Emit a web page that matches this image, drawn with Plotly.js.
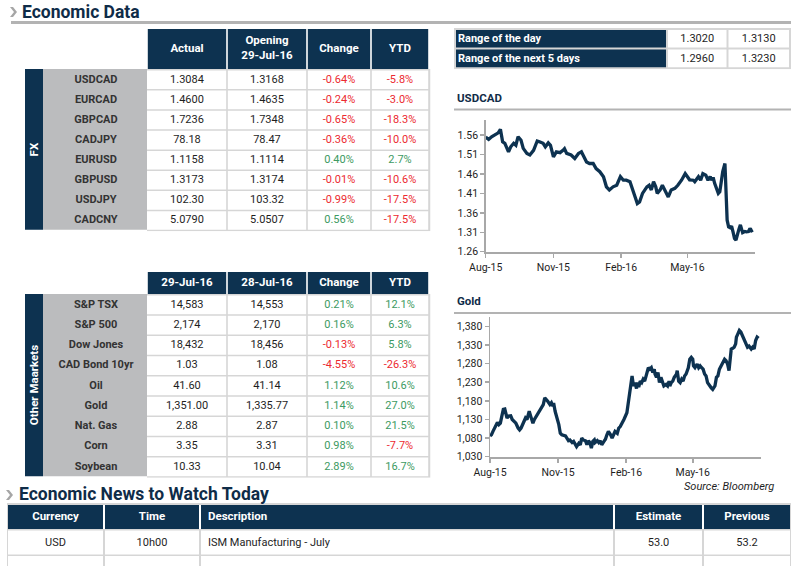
<!DOCTYPE html>
<html><head><meta charset="utf-8">
<script src="https://cdn.plot.ly/plotly-3.0.1.min.js"></script>
<style>html,body{margin:0;padding:0;background:#fff;overflow:hidden}#chart{width:806px;height:566px}</style>
</head><body><div id="chart"></div><script>
// ---------- DATA ----------
const fxPairs   = ['USDCAD','EURCAD','GBPCAD','CADJPY','EURUSD','GBPUSD','USDJPY','CADCNY'];
const fxActual  = ['1.3084','1.4600','1.7236','78.18','1.1158','1.3173','102.30','5.0790'];
const fxOpening = ['1.3168','1.4635','1.7348','78.47','1.1114','1.3174','103.32','5.0507'];
const fxChange  = ['-0.64%','-0.24%','-0.65%','-0.36%','0.40%','-0.01%','-0.99%','0.56%'];
const fxYtd     = ['-5.8%','-3.0%','-18.3%','-10.0%','2.7%','-10.6%','-17.5%','-17.5%'];
const fxHeaders = ['Actual','Opening<br>29-Jul-16','Change','YTD'];
const fxSideLabel = 'FX';

const mktNames  = ['S&P TSX','S&P 500','Dow Jones','CAD Bond 10yr','Oil','Gold','Nat. Gas','Corn','Soybean'];
const mkt29     = ['14,583','2,174','18,432','1.03','41.60','1,351.00','2.88','3.35','10.33'];
const mkt28     = ['14,553','2,170','18,456','1.08','41.14','1,335.77','2.87','3.31','10.04'];
const mktChange = ['0.21%','0.16%','-0.13%','-4.55%','1.12%','1.14%','0.10%','0.98%','2.89%'];
const mktYtd    = ['12.1%','6.3%','5.8%','-26.3%','10.6%','27.0%','21.5%','-7.7%','16.7%'];
const mktHeaders = ['29-Jul-16','28-Jul-16','Change','YTD'];
const mktSideLabel = 'Other Maarkets';

const rangeLabels = ['Range of the day','Range of the next 5 days'];
const rangeLow    = ['1.3020','1.2960'];
const rangeHigh   = ['1.3130','1.3230'];

const newsHeaders  = ['Currency','Time','Description','Estimate','Previous'];
const newsCurrency = ['USD'];
const newsTime     = ['10h00'];
const newsDesc     = ['ISM Manufacturing - July'];
const newsEstimate = ['53.0'];
const newsPrevious = ['53.2'];

const usdcadDates = ['2015-08-01','2015-08-05','2015-08-09','2015-08-14','2015-08-18','2015-08-21','2015-08-24','2015-08-27','2015-09-01','2015-09-04','2015-09-08','2015-09-11','2015-09-14','2015-09-18','2015-09-21','2015-09-26','2015-09-30','2015-10-05','2015-10-08','2015-10-10','2015-10-13','2015-10-18','2015-10-21','2015-10-25','2015-10-28','2015-11-01','2015-11-05','2015-11-10','2015-11-14','2015-11-16','2015-11-19','2015-11-25','2015-11-30','2015-12-05','2015-12-09','2015-12-11','2015-12-16','2015-12-20','2015-12-25','2015-12-29','2016-01-03','2016-01-08','2016-01-10','2016-01-12','2016-01-16','2016-01-19','2016-01-21','2016-01-26','2016-01-28','2016-01-31','2016-02-04','2016-02-08','2016-02-13','2016-02-15','2016-02-17','2016-02-20','2016-02-23','2016-02-26','2016-03-01','2016-03-04','2016-03-07','2016-03-10','2016-03-13','2016-03-16','2016-03-19','2016-03-21','2016-03-25','2016-03-28','2016-03-31','2016-04-03','2016-04-05','2016-04-09','2016-04-14','2016-04-18','2016-04-23','2016-04-28','2016-05-01','2016-05-04','2016-05-09','2016-05-11','2016-05-16','2016-05-19','2016-05-22','2016-05-26','2016-05-29','2016-06-01','2016-06-03','2016-06-05','2016-06-07','2016-06-10','2016-06-12','2016-06-14','2016-06-16','2016-06-18','2016-06-21','2016-06-22','2016-06-23','2016-06-24','2016-06-26','2016-06-28','2016-06-30','2016-07-02','2016-07-04','2016-07-06','2016-07-08','2016-07-10','2016-07-12','2016-07-15','2016-07-18','2016-07-20','2016-07-23','2016-07-25','2016-07-27','2016-07-29'];
const usdcadValues = [1.555,1.549,1.556,1.563,1.566,1.575,1.543,1.539,1.517,1.530,1.539,1.534,1.556,1.547,1.526,1.513,1.509,1.521,1.534,1.545,1.543,1.539,1.530,1.540,1.534,1.504,1.517,1.515,1.521,1.525,1.513,1.509,1.500,1.513,1.517,1.509,1.491,1.487,1.487,1.474,1.466,1.453,1.440,1.427,1.419,1.423,1.427,1.431,1.440,1.453,1.444,1.444,1.440,1.427,1.419,1.401,1.384,1.388,1.410,1.419,1.427,1.431,1.419,1.440,1.427,1.410,1.419,1.431,1.419,1.410,1.401,1.419,1.423,1.431,1.444,1.461,1.454,1.445,1.444,1.440,1.453,1.444,1.461,1.457,1.444,1.453,1.444,1.451,1.436,1.419,1.410,1.414,1.440,1.466,1.487,1.455,1.390,1.341,1.324,1.322,1.326,1.311,1.294,1.290,1.307,1.318,1.329,1.309,1.312,1.311,1.312,1.320,1.314,1.316];

const goldDates = ['2015-08-01','2015-08-03','2015-08-05','2015-08-07','2015-08-10','2015-08-11','2015-08-13','2015-08-15','2015-08-17','2015-08-19','2015-08-21','2015-08-22','2015-08-24','2015-08-26','2015-08-29','2015-08-31','2015-09-03','2015-09-05','2015-09-08','2015-09-10','2015-09-12','2015-09-15','2015-09-18','2015-09-20','2015-09-22','2015-09-23','2015-09-25','2015-09-28','2015-09-30','2015-10-03','2015-10-05','2015-10-08','2015-10-10','2015-10-12','2015-10-14','2015-10-16','2015-10-18','2015-10-21','2015-10-23','2015-10-25','2015-10-26','2015-10-28','2015-10-31','2015-11-02','2015-11-04','2015-11-06','2015-11-11','2015-11-13','2015-11-15','2015-11-17','2015-11-20','2015-11-22','2015-11-24','2015-11-26','2015-11-29','2015-12-01','2015-12-03','2015-12-05','2015-12-08','2015-12-10','2015-12-12','2015-12-14','2015-12-16','2015-12-18','2015-12-20','2015-12-21','2015-12-24','2015-12-26','2015-12-28','2015-12-30','2016-01-02','2016-01-04','2016-01-06','2016-01-08','2016-01-11','2016-01-13','2016-01-15','2016-01-17','2016-01-20','2016-01-22','2016-01-24','2016-01-27','2016-01-29','2016-02-02','2016-02-04','2016-02-06','2016-02-08','2016-02-09','2016-02-10','2016-02-11','2016-02-13','2016-02-15','2016-02-16','2016-02-18','2016-02-20','2016-02-22','2016-02-24','2016-02-26','2016-02-28','2016-03-02','2016-03-04','2016-03-06','2016-03-08','2016-03-10','2016-03-11','2016-03-13','2016-03-15','2016-03-17','2016-03-19','2016-03-21','2016-03-23','2016-03-26','2016-03-28','2016-03-30','2016-03-31','2016-04-02','2016-04-04','2016-04-06','2016-04-09','2016-04-10','2016-04-12','2016-04-14','2016-04-16','2016-04-18','2016-04-20','2016-04-22','2016-04-25','2016-04-27','2016-04-29','2016-05-01','2016-05-02','2016-05-04','2016-05-07','2016-05-09','2016-05-11','2016-05-13','2016-05-15','2016-05-17','2016-05-19','2016-05-21','2016-05-24','2016-05-26','2016-05-28','2016-05-31','2016-06-02','2016-06-04','2016-06-06','2016-06-08','2016-06-11','2016-06-13','2016-06-15','2016-06-17','2016-06-19','2016-06-21','2016-06-22','2016-06-24','2016-06-26','2016-06-28','2016-06-29','2016-07-01','2016-07-03','2016-07-05','2016-07-07','2016-07-10','2016-07-12','2016-07-14','2016-07-16','2016-07-19','2016-07-21','2016-07-23','2016-07-25','2016-07-27','2016-07-29'];
const goldValues = [1086,1089,1098,1107,1119,1122,1116,1120,1139,1157,1158,1148,1134,1139,1140,1130,1122,1120,1107,1102,1107,1120,1134,1130,1143,1152,1139,1120,1130,1139,1148,1157,1161,1170,1188,1184,1179,1170,1175,1166,1174,1152,1134,1116,1093,1089,1086,1080,1073,1075,1068,1071,1062,1057,1066,1062,1080,1075,1073,1062,1073,1068,1053,1071,1075,1068,1073,1068,1073,1062,1071,1077,1089,1098,1089,1080,1089,1098,1093,1107,1111,1120,1130,1148,1175,1202,1238,1247,1233,1220,1229,1213,1229,1217,1233,1229,1238,1233,1247,1269,1265,1269,1256,1265,1252,1243,1256,1229,1243,1233,1220,1224,1220,1233,1220,1229,1233,1243,1252,1261,1233,1229,1238,1233,1247,1252,1269,1292,1297,1292,1274,1269,1279,1269,1274,1269,1265,1252,1247,1229,1218,1215,1211,1220,1243,1247,1265,1274,1283,1292,1288,1279,1261,1301,1319,1321,1324,1333,1351,1360,1369,1365,1356,1338,1329,1324,1327,1319,1324,1319,1342,1351,1348];

// ---------- STYLE ----------
const W = 806, H = 566;
const px = x => x / W, py = y => 1 - y / H;
const F = 'Roboto, "Liberation Sans", sans-serif';
const NAVY = '#0d3250', LBL = '#bbbcbe', BORDER = '#d6d6d6', RED = '#ec2a30', GREEN = '#3d9a62',
      TXT = '#1e1e1e', LTXT = '#333333', AX = '#a8a8a8', TITLE = '#0f2c48', RULE = '#b3b3b3';
const esc = s => s.replace(/&/g, '&amp;');
const bold = s => '<b>' + s.split('<br>').map(esc).join('</b><br><b>') + '</b>';
const signColor = s => s.trim().startsWith('-') ? RED : GREEN;
const cum = w => w.reduce((a, v) => { a.push(a[a.length - 1] + v); return a; }, [0]);

const layout = {
  width: W, height: H, margin: {l: 0, r: 0, t: 0, b: 0},
  paper_bgcolor: 'white', plot_bgcolor: 'rgba(0,0,0,0)', showlegend: false,
  shapes: [], annotations: []
};
const traces = [];

// ---------- table helpers (each table lives on its own hidden pixel-unit axes) ----------
function tableAxes(n, left, top, width, height) {
  layout['xaxis' + n] = {domain: [px(left), px(left + width)], range: [0, width], visible: false, fixedrange: true, anchor: 'y' + n};
  layout['yaxis' + n] = {domain: [py(top + height), py(top)], range: [height, 0], visible: false, fixedrange: true, anchor: 'x' + n};
}
function cell(n, x0, x1, y0, y1, color) {
  layout.shapes.push({type: 'rect', xref: 'x' + n, yref: 'y' + n, x0: x0, x1: x1, y0: y0, y1: y1,
    fillcolor: color, line: {width: 0}, layer: 'below'});
}
function texts(n, xs, ys, t, colors, size, pos) {
  traces.push({type: 'scatter', mode: 'text', xaxis: 'x' + n, yaxis: 'y' + n, x: xs, y: ys, text: t,
    textposition: pos || 'middle center', textfont: {family: F, size: size, color: colors},
    hoverinfo: 'skip', cliponaxis: false});
}

function marketTable(n, top, headH, rowH, headers, sideLabel, names, cols) {
  const colW = [18, 104, 80, 80, 64, 58];
  const e = cum(colW);
  const nR = names.length, bodyH = nR * rowH;
  const width = e[e.length - 1] + 1.5, height = headH + bodyH + 1.5;
  tableAxes(n, 25, top, width, height);
  for (let c = 2; c < 6; c++) cell(n, e[c] + 0.8, e[c + 1] - 0.8, 0, headH, NAVY);
  cell(n, e[0], e[1], headH, headH + bodyH, NAVY);
  cell(n, e[1], e[2], headH, headH + bodyH, LBL);
  cell(n, e[2], width, headH, height, BORDER);
  names.forEach((_, r) => {
    for (let c = 2; c < 6; c++) cell(n, e[c] + (c === 2 ? 0 : 0.8), e[c + 1] - 0.8, headH + r * rowH + 1.5, headH + (r + 1) * rowH, 'white');
  });
  const centers = colW.map((w, i) => (e[i] + e[i + 1]) / 2);
  texts(n, centers.slice(2), headers.map(() => headH / 2), headers.map(bold), 'white', 11.5);
  const allCols = [names.map(bold)].concat(cols);
  allCols.forEach((col, k) => {
    const c = k + 1;
    const colors = c === 1 ? LTXT : (c >= 4 ? col.map(signColor) : TXT);
    texts(n, col.map(() => centers[c] + (c === 1 ? 1 : 0)), col.map((_, r) => headH + (r + 0.5) * rowH + 0.8), col, colors, 11);
  });
  layout.annotations.push({xref: 'x' + n, yref: 'y' + n, x: centers[0], y: headH + bodyH / 2, text: bold(sideLabel),
    textangle: -90, showarrow: false, font: {family: F, size: 11.5, color: 'white'}});
}

marketTable(3, 29, 40, 20.1, fxHeaders, fxSideLabel, fxPairs, [fxActual, fxOpening, fxChange, fxYtd]);
marketTable(4, 272, 22, 20.25, mktHeaders, mktSideLabel, mktNames, [mkt29, mkt28, mktChange, mktYtd]);

// Range table
(function () {
  const n = 5, colW = [212, 60.5, 62.5], e = cum(colW), rowH = 19.6;
  const width = e[3] + 2, height = rangeLabels.length * rowH + 2;
  tableAxes(n, 454, 28, width, height);
  cell(n, 0, width, 0, height, BORDER);
  const fills = [NAVY, 'white', 'white'];
  rangeLabels.forEach((_, r) => {
    for (let c = 0; c < 3; c++) cell(n, e[c] + 2, e[c + 1], r * rowH + 2, (r + 1) * rowH, fills[c]);
  });
  const ys = rangeLabels.map((_, r) => r * rowH + 1 + rowH / 2 + 0.5);
  texts(n, rangeLabels.map(() => 4), ys, rangeLabels.map(bold), 'white', 11, 'middle right');
  texts(n, rangeLow.map(() => (e[1] + e[2]) / 2 + 1), ys, rangeLow, TXT, 11);
  texts(n, rangeHigh.map(() => (e[2] + e[3]) / 2 + 1), ys, rangeHigh, TXT, 11);
})();

// Economic news table
(function () {
  const n = 6, colW = [97, 96, 414, 89, 88], e = cum(colW);
  const headTop = 2, headH = 24, rowH = 25.5;
  const width = e[5], height = 63;
  tableAxes(n, 7, 503, width, height);
  cell(n, 0, width, 0, height, BORDER);
  cell(n, 1, width - 1.5, headTop, headTop + headH, 'white');
  const cols = [newsCurrency, newsTime, newsDesc, newsEstimate, newsPrevious];
  const nRows = newsCurrency.length + 1; // one further (empty) row is visible at the foot
  for (let c = 0; c < 5; c++) {
    cell(n, e[c] + 1, e[c + 1] - 1, headTop, headTop + headH, NAVY);
    for (let r = 0; r < nRows; r++)
      cell(n, e[c] + 1, e[c + 1] - 1, headTop + headH + r * rowH + 1.5, headTop + headH + (r + 1) * rowH, 'white');
  }
  const xPos = c => c === 2 ? e[c] + 8 : (e[c] + e[c + 1]) / 2;
  const posOf = c => c === 2 ? 'middle right' : 'middle center';
  newsHeaders.forEach((h, c) => texts(n, [xPos(c)], [headTop + headH / 2], [bold(h)], 'white', 11.5, posOf(c)));
  cols.forEach((col, c) => texts(n, col.map(() => xPos(c)), col.map((_, r) => headTop + headH + (r + 0.5) * rowH + 1), col, TXT, 11, posOf(c)));
})();

// ---------- line charts ----------
traces.push({type: 'scatter', mode: 'lines', x: usdcadDates, y: usdcadValues, xaxis: 'x', yaxis: 'y',
  line: {color: NAVY, width: 3.3}, hoverinfo: 'skip'});
traces.push({type: 'scatter', mode: 'lines', x: goldDates, y: goldValues, xaxis: 'x2', yaxis: 'y2',
  line: {color: NAVY, width: 3.3}, hoverinfo: 'skip'});

const xBase = {type: 'date', range: ['2015-08-01', '2016-07-31 20:00'], tick0: '2015-08-01', dtick: 'M3', tickformat: '%b-%y',
  ticks: 'outside', ticklen: 4, tickwidth: 1.5, tickcolor: AX, showline: true, linecolor: AX, linewidth: 2.5,
  showgrid: false, zeroline: false, tickfont: {family: F, size: 10.5, color: TXT}, fixedrange: true};
const yBase = {ticks: 'outside', ticklen: 4, tickwidth: 1.5, tickcolor: AX, showline: true, linecolor: AX, linewidth: 1.5,
  showgrid: false, zeroline: false, tickfont: {family: F, size: 10.5, color: TXT}, fixedrange: true};
layout.xaxis = Object.assign({}, xBase, {domain: [px(485.7), px(755)], anchor: 'y'});
layout.yaxis = Object.assign({}, yBase, {domain: [py(251.7), py(120)], range: [1.26, 1.599], tick0: 1.26, dtick: 0.05, tickformat: '.2f', anchor: 'x'});
layout.xaxis2 = Object.assign({}, xBase, {domain: [px(490), px(760.7)], anchor: 'y2'});
layout.yaxis2 = Object.assign({}, yBase, {domain: [py(456.7), py(316.7)], range: [1030, 1406], tick0: 1030, dtick: 50, tickformat: ',.0f', anchor: 'x2'});

// ---------- decoration: rules, chevrons, titles ----------
const hline = (x0, x1, y, color, w) => ({type: 'line', xref: 'paper', yref: 'paper', x0: px(x0), x1: px(x1), y0: py(y), y1: py(y), line: {color: color, width: w}});
const chevron = (x, yc) => ({type: 'path', xref: 'paper', yref: 'paper', fillcolor: '#a6a6a6', line: {width: 0},
  path: 'M' + [[x, yc - 5], [x + 3, yc - 5], [x + 7, yc], [x + 3, yc + 5], [x, yc + 5], [x + 4, yc]].map(p => px(p[0]) + ',' + py(p[1])).join(' L') + ' Z'});
layout.shapes.push(hline(11, 791, 22.5, RULE, 3), hline(454, 791, 109.5, RULE, 2), hline(454, 791, 313, RULE, 2),
  chevron(10, 12), chevron(6, 495));

const ann = (x, y, text, opts) => Object.assign({xref: 'paper', yref: 'paper', x: px(x), y: py(y), text: text, showarrow: false, xanchor: 'left', yanchor: 'middle'}, opts);
layout.annotations.push(
  ann(19.5, 11.5, '<b>Economic Data</b>', {font: {family: F, size: 17.5, color: TITLE}}),
  ann(17, 494, '<b>Economic News to Watch Today</b>', {font: {family: F, size: 17.5, color: TITLE}}),
  ann(455, 98, '<b>USDCAD</b>', {font: {family: F, size: 11.5, color: TITLE}}),
  ann(455, 301, '<b>Gold</b>', {font: {family: F, size: 11.5, color: TITLE}}),
  ann(776, 486.5, '<i>Source: Bloomberg</i>', {xanchor: 'right', font: {family: F, size: 11, color: TXT}})
);

Plotly.newPlot('chart', traces, layout, {staticPlot: true, displayModeBar: false});
</script></body></html>
